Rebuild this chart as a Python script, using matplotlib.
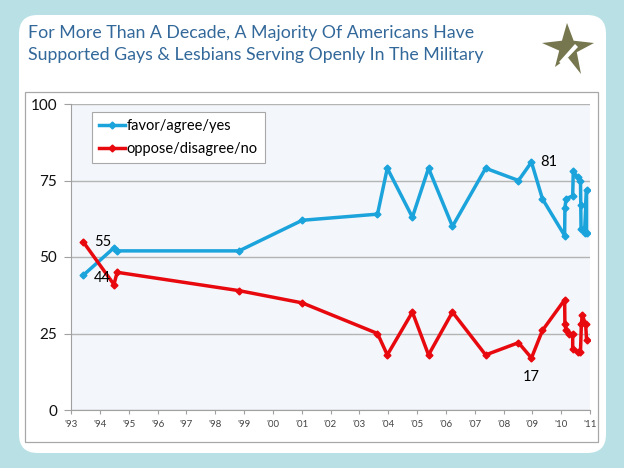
import numpy as np
import matplotlib.pyplot as plt
from matplotlib.patches import FancyBboxPatch, Rectangle, Polygon

plt.rcParams['font.family'] = ['Lato', 'DejaVu Sans']

# poll dates (decimal years) and values
favor_dates = [1993.42, 1994.49, 1994.6, 1998.83, 2001.02, 2003.63, 2003.97, 2004.84, 2005.4,
               2006.23, 2007.38, 2008.52, 2008.97, 2009.35, 2010.12, 2010.13, 2010.17, 2010.4,
               2010.42, 2010.57, 2010.67, 2010.68, 2010.69, 2010.81, 2010.88, 2010.88]
favor = [44, 53, 52, 52, 62, 64, 79, 63, 79, 60, 79, 75, 81, 69, 57, 66, 69, 70,
         78, 76, 75, 67, 59, 58, 72, 58]

oppose_dates = [1993.42, 1994.49, 1994.6, 1998.83, 2001.02, 2003.63, 2003.97, 2004.84, 2005.4,
                2006.23, 2007.38, 2008.52, 2008.97, 2009.35, 2010.12, 2010.13, 2010.17, 2010.27,
                2010.4, 2010.4, 2010.57, 2010.67, 2010.7, 2010.73, 2010.85, 2010.88]
oppose = [55, 41, 45, 39, 35, 25, 18, 32, 18, 32, 18, 22, 17, 26, 36, 28, 26, 25,
          25, 20, 19, 19, 28, 31, 28, 23]

year_ticks = list(range(1993, 2012))
year_labels = ["'%02d" % (y % 100) for y in year_ticks]
y_ticks = [0, 25, 50, 75, 100]

W, H = 624, 468
fig = plt.figure(figsize=(W / 100, H / 100), dpi=100)
fig.patch.set_facecolor('#b9e1e5')

def fx(px):
    return px / W

def fy(py):
    return 1 - py / H

# white rounded panel
panel = FancyBboxPatch((fx(19), fy(453)), fx(606) - fx(19), fy(15) - fy(453),
                       boxstyle="round,pad=0,rounding_size=0.03", transform=fig.transFigure,
                       facecolor='white', edgecolor='none', mutation_aspect=W / H, zorder=-3)
fig.add_artist(panel)

# chart frame
frame = Rectangle((fx(25), fy(442)), fx(598) - fx(25), fy(92) - fy(442),
                  transform=fig.transFigure, facecolor='white', edgecolor='#a8a8a8', lw=0.9, zorder=-2)
fig.add_artist(frame)

# title
fig.text(fx(28), fy(33), "For More Than A Decade, A Majority Of Americans Have",
         color='#33689a', fontsize=12.8, va='center', ha='left')
fig.text(fx(28), fy(55), "Supported Gays & Lesbians Serving Openly In The Military",
         color='#33689a', fontsize=12.8, va='center', ha='left')

# star logo
cx, cy = 568, 47
outer = [(567, 23), (594, 43), (581, 74), (555, 67), (542, 43)]
pts = []
for i in range(5):
    ox, oy = outer[i]
    nx, ny = outer[(i + 1) % 5]
    pts.append((fx(ox), fy(oy)))
    mx, my = (ox + nx) / 2, (oy + ny) / 2
    pts.append((fx(cx + (mx - cx) * 0.45), fy(cy + (my - cy) * 0.45)))
fig.add_artist(Polygon(pts, closed=True, transform=fig.transFigure,
                       facecolor='#76774e', edgecolor='none'))
fig.add_artist(Polygon([(fx(559), fy(62)), (fx(575), fy(44)), (fx(578), fy(47)), (fx(562), fy(64))],
                       closed=True, transform=fig.transFigure, facecolor='white', edgecolor='none'))

ax = fig.add_axes([fx(71), fy(410), fx(590) - fx(71), fy(104) - fy(410)])
ax.set_facecolor('#f3f6fa')

blue = '#1ba3dc'
red = '#e8090f'
ax.plot(favor_dates, favor, color=blue, lw=2.5, marker='D', ms=3.5, label='favor/agree/yes', zorder=3)
ax.plot(oppose_dates, oppose, color=red, lw=2.5, marker='D', ms=3.5, label='oppose/disagree/no', zorder=3)

ax.set_xlim(1993, 2011)
ax.set_ylim(0, 100)
ax.set_yticks(y_ticks)
ax.set_xticks(year_ticks)
ax.set_xticklabels(year_labels)
ax.grid(axis='y', color='#b4b4b4', lw=1.0)
ax.set_axisbelow(True)
for s in ['top', 'right']:
    ax.spines[s].set_visible(False)
ax.spines['left'].set_color('#a0a0a0')
ax.spines['bottom'].set_color('#a0a0a0')
ax.tick_params(axis='y', labelsize=11, colors='#a0a0a0', labelcolor='#111111', length=5, pad=5)
ax.tick_params(axis='x', labelsize=7, colors='#a0a0a0', labelcolor='#444444', length=3, pad=4)

ax.annotate('55', (favor_dates[0], oppose[0]), xytext=(8, 0), textcoords='offset points',
            fontsize=10.5, va='center', ha='left')
ax.annotate('44', (favor_dates[0], favor[0]), xytext=(8, -2), textcoords='offset points',
            fontsize=10.5, va='center', ha='left')
ax.annotate('81', (favor_dates[12], favor[12]), xytext=(6, 0), textcoords='offset points',
            fontsize=10.5, va='center', ha='left')
ax.annotate('17', (oppose_dates[12], oppose[12]), xytext=(0, -14), textcoords='offset points',
            fontsize=10.5, va='center', ha='center')

leg = ax.legend(loc='upper left', bbox_to_anchor=(0.04, 0.974), borderaxespad=0, fontsize=10.5,
                frameon=True, fancybox=False, edgecolor='#a8a8a8', framealpha=1, handlelength=1.8,
                handletextpad=0.1, borderpad=0.5, labelspacing=0.6)
leg.get_frame().set_linewidth(0.8)

fig.savefig('out.png', dpi=100, facecolor=fig.get_facecolor())
